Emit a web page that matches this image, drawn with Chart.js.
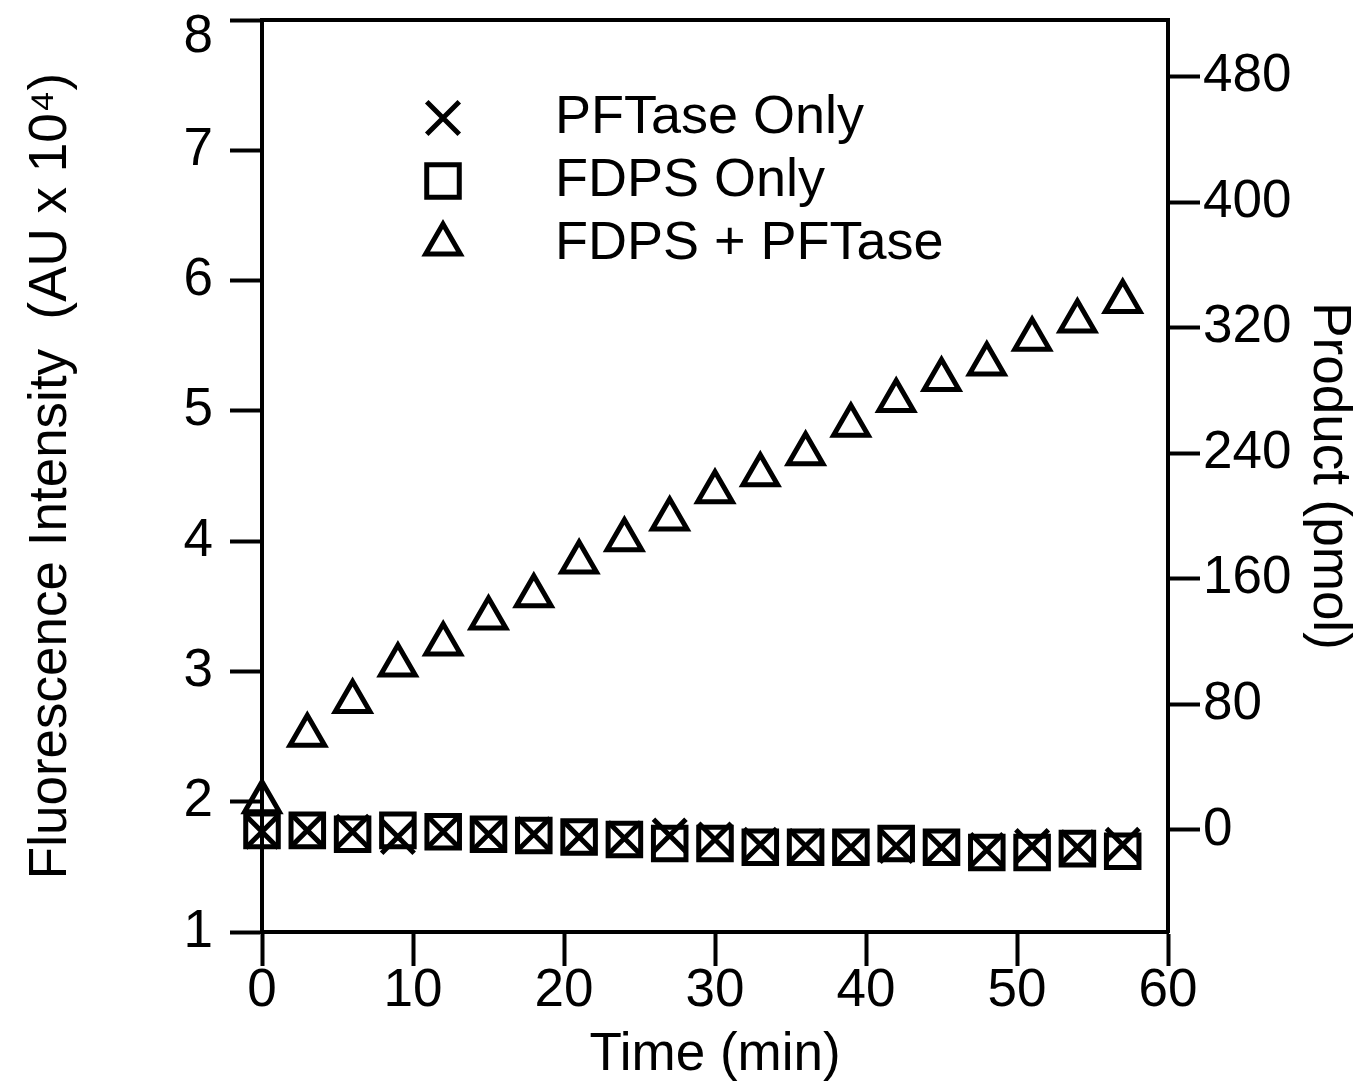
<!DOCTYPE html>
<html>
<head>
<meta charset="utf-8">
<title>Fluorescence vs time</title>
<script src="https://cdn.jsdelivr.net/npm/chart.js@4.4.0/dist/chart.umd.min.js"></script>
<style>
  body { margin: 0; background: #fff; }
  canvas { display: block; }
</style>
</head>
<body>
<canvas id="kineticsChart" width="1360" height="1087"></canvas>
<script>
// time points (min)
const times = [0, 3, 6, 9, 12, 15, 18, 21, 24, 27, 30, 33, 36, 39, 42, 45, 48, 51, 54, 57];

// fluorescence (AU x 10^4)
const pftaseOnly     = [1.77, 1.78, 1.77, 1.73, 1.77, 1.75, 1.75, 1.73, 1.72, 1.74, 1.71, 1.67, 1.66, 1.65, 1.66, 1.65, 1.63, 1.66, 1.65, 1.67];
const fdpsOnly       = [1.78, 1.78, 1.75, 1.78, 1.77, 1.75, 1.74, 1.73, 1.71, 1.68, 1.68, 1.65, 1.65, 1.65, 1.68, 1.65, 1.61, 1.61, 1.64, 1.62];
const fdpsPlusPftase = [2.00, 2.51, 2.77, 3.05, 3.21, 3.41, 3.58, 3.84, 4.01, 4.17, 4.38, 4.51, 4.67, 4.89, 5.08, 5.24, 5.36, 5.55, 5.69, 5.84];

const seriesNames = ['PFTase Only', 'FDPS Only', 'FDPS + PFTase'];

const timeTicks = [0, 10, 20, 30, 40, 50, 60];
const intensityTicks = [1, 2, 3, 4, 5, 6, 7, 8];
const productTicks = [0, 80, 160, 240, 320, 400, 480];

const FONT = "'Liberation Sans', Arial, Helvetica, sans-serif";
const INK = '#000';
const TEXT_SIZE = 53;

function toPoints(ys) {
    return times.map((t, i) => ({ x: t, y: ys[i] }));
}

function fixedTicks(values) {
    return function (scale) {
        scale.ticks = values.map(v => ({ value: v }));
    };
}

// fixed scale sizes, no extra room for overhanging end labels
function fixedSize(w, h) {
    return function (scale) {
        if (w !== null) scale.width = w;
        if (h !== null) scale.height = h;
        scale.paddingTop = 0;
        scale.paddingBottom = 0;
        scale.paddingLeft = 0;
        scale.paddingRight = 0;
    };
}

// closes the box along the top edge
const topBorder = {
    id: 'topBorder',
    afterDraw(chart) {
        const { ctx, chartArea } = chart;
        ctx.save();
        ctx.strokeStyle = INK;
        ctx.lineWidth = 4;
        ctx.beginPath();
        ctx.moveTo(chartArea.left - 2, chartArea.top);
        ctx.lineTo(chartArea.right + 2, chartArea.top);
        ctx.stroke();
        ctx.restore();
    }
};

// keep the top left label ("8") inside the canvas
const nudgeTopLabel = {
    id: 'nudgeTopLabel',
    beforeDraw(chart) {
        const scale = chart.scales.y;
        const minY = TEXT_SIZE * 0.7;
        scale.getLabelItems(chart.chartArea).forEach(item => {
            if (item.options.translation[1] < minY) item.options.translation[1] = minY;
        });
    }
};

// legend inside the plot, symbol column + label column
const insideLegend = {
    id: 'insideLegend',
    afterDraw(chart) {
        const { ctx, chartArea } = chart;
        const symX = chartArea.left + 181;
        const textX = chartArea.left + 293;
        const rowY = [chartArea.top + 98, chartArea.top + 161, chartArea.top + 224];
        ctx.save();
        ctx.font = '54px ' + FONT;
        ctx.textBaseline = 'middle';
        ctx.textAlign = 'left';
        chart.data.datasets.forEach((ds, i) => {
            ctx.strokeStyle = INK;
            ctx.fillStyle = 'rgba(0,0,0,0)';
            ctx.lineWidth = ds.borderWidth;
            Chart.helpers.drawPoint(ctx, {
                pointStyle: ds.pointStyle,
                radius: ds.pointRadius,
                rotation: 0,
                borderWidth: ds.borderWidth
            }, symX, rowY[i]);
            ctx.fillStyle = INK;
            ctx.fillText(ds.label, textX, rowY[i]);
        });
        ctx.restore();
    }
};

const ctx = document.getElementById('kineticsChart').getContext('2d');

new Chart(ctx, {
    type: 'scatter',
    data: {
        datasets: [
            {
                label: seriesNames[0],
                data: toPoints(pftaseOnly),
                pointStyle: 'crossRot',
                pointRadius: 23,
                borderWidth: 5,
                borderColor: INK,
                backgroundColor: 'rgba(0,0,0,0)',
                clip: false
            },
            {
                label: seriesNames[1],
                data: toPoints(fdpsOnly),
                pointStyle: 'rect',
                pointRadius: 23,
                borderWidth: 5,
                borderColor: INK,
                backgroundColor: 'rgba(0,0,0,0)',
                clip: false
            },
            {
                label: seriesNames[2],
                data: toPoints(fdpsPlusPftase),
                pointStyle: 'triangle',
                pointRadius: 20,
                borderWidth: 5,
                borderColor: INK,
                backgroundColor: 'rgba(0,0,0,0)',
                clip: false
            }
        ]
    },
    options: {
        responsive: false,
        animation: false,
        events: [],
        layout: { autoPadding: false, padding: { top: 20, left: 0, right: 0, bottom: 0 } },
        plugins: {
            legend: { display: false },
            tooltip: { enabled: false }
        },
        scales: {
            x: {
                type: 'linear',
                min: 0,
                max: 60,
                afterBuildTicks: fixedTicks(timeTicks),
                afterFit: fixedSize(null, 155),
                border: { color: INK, width: 4 },
                grid: { drawOnChartArea: false, drawTicks: true, tickLength: 34, tickWidth: 4, tickColor: INK },
                ticks: { color: INK, padding: -6, font: { family: FONT, size: TEXT_SIZE }, maxRotation: 0 },
                title: { display: true, text: 'Time (min)', color: INK, font: { family: FONT, size: TEXT_SIZE }, padding: 0 }
            },
            y: {
                type: 'linear',
                position: 'left',
                min: 1,
                max: 8,
                afterBuildTicks: fixedTicks(intensityTicks),
                afterFit: fixedSize(262, null),
                border: { color: INK, width: 4 },
                grid: { drawOnChartArea: false, drawTicks: true, tickLength: 32, tickWidth: 4, tickColor: INK },
                ticks: { color: INK, padding: 17, font: { family: FONT, size: TEXT_SIZE } },
                title: { display: true, text: 'Fluorescence Intensity  (AU x 10\u2074)', color: INK, font: { family: FONT, size: TEXT_SIZE }, padding: { top: 20, bottom: 0 } }
            },
            product: {
                type: 'linear',
                position: 'right',
                display: true,
                min: -65,
                max: 516,
                afterBuildTicks: fixedTicks(productTicks),
                afterFit: fixedSize(192, null),
                border: { color: INK, width: 4 },
                grid: { drawOnChartArea: false, drawTicks: true, tickLength: 32, tickWidth: 4, tickColor: INK },
                ticks: { color: INK, padding: 3, font: { family: FONT, size: TEXT_SIZE } },
                title: { display: true, text: 'Product (pmol)', color: INK, font: { family: FONT, size: TEXT_SIZE }, padding: 0 }
            }
        }
    },
    plugins: [nudgeTopLabel, topBorder, insideLegend]
});
</script>
</body>
</html>
